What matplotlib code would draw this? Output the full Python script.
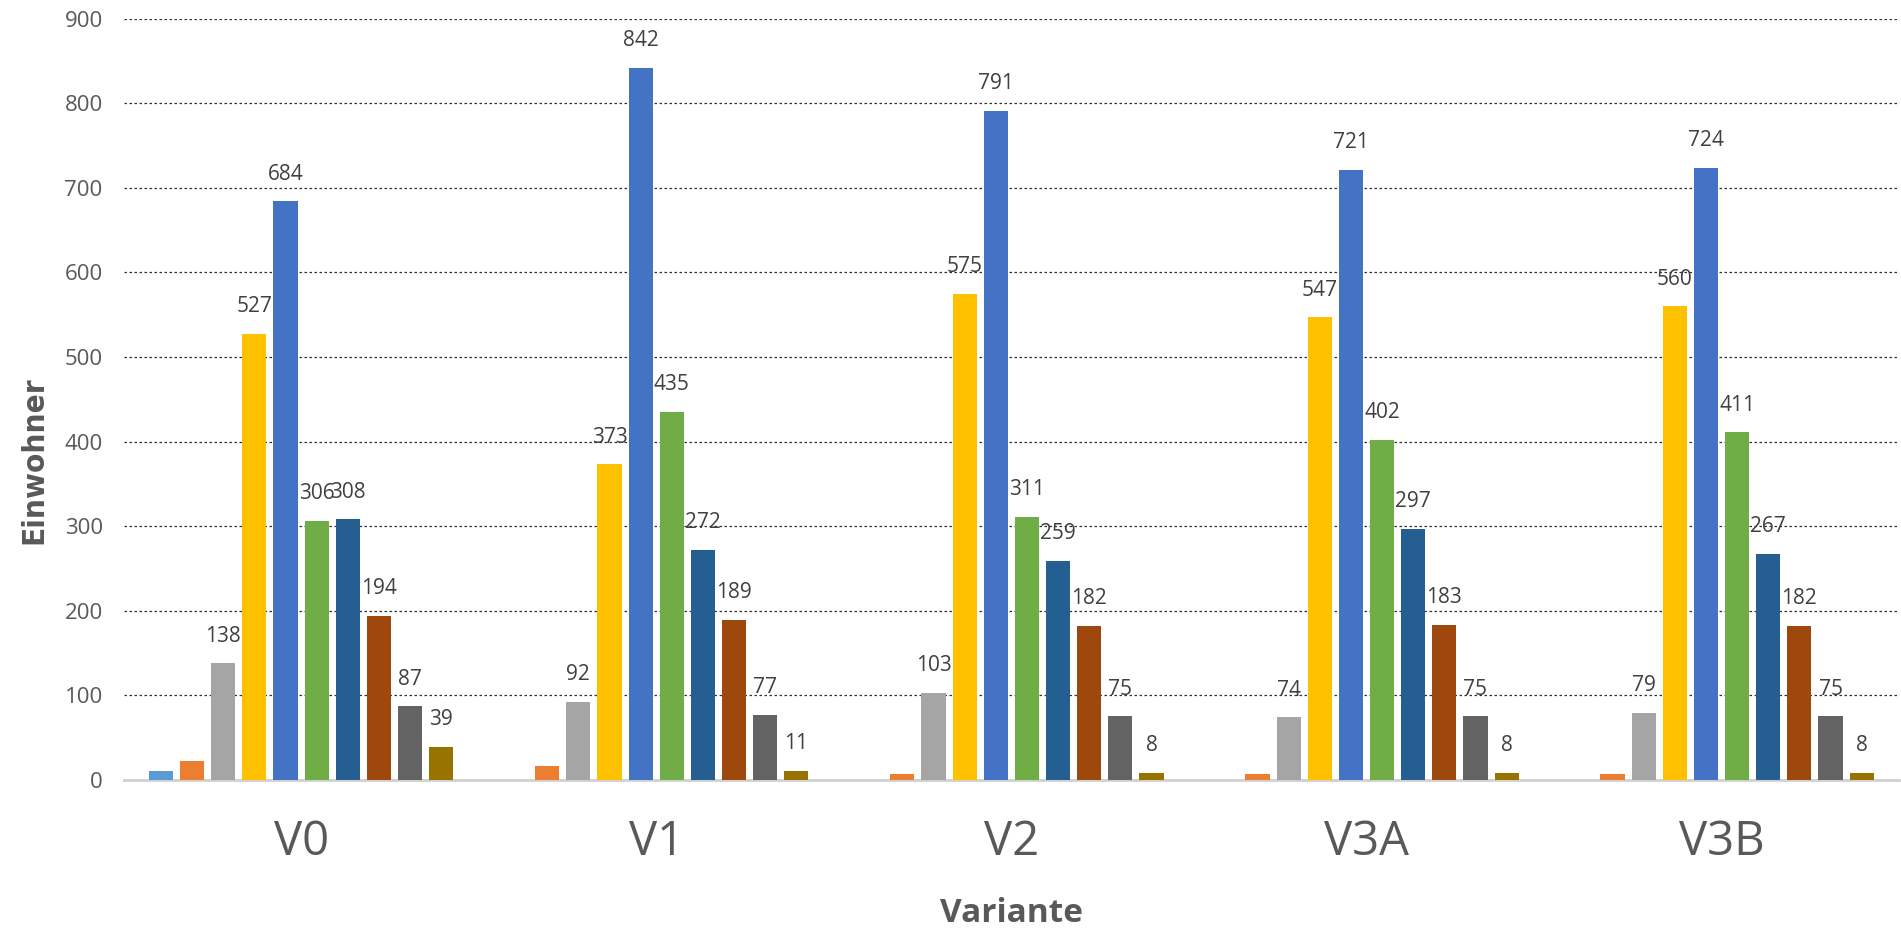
import matplotlib
matplotlib.use("Agg")
import matplotlib.pyplot as plt
import numpy as np

variants = ["V0", "V1", "V2", "V3A", "V3B"]

# one list per series, values per variant
s01 = [10, 0, 0, 0, 0]
s02 = [22, 16, 7, 7, 7]
s03 = [138, 92, 103, 74, 79]
s04 = [527, 373, 575, 547, 560]
s05 = [684, 842, 791, 721, 724]
s06 = [306, 435, 311, 402, 411]
s07 = [308, 272, 259, 297, 267]
s08 = [194, 189, 182, 183, 182]
s09 = [87, 77, 75, 75, 75]
s10 = [39, 11, 8, 8, 8]

series = [s01, s02, s03, s04, s05, s06, s07, s08, s09, s10]
labelled = [False, False, True, True, True, True, True, True, True, True]
colors = ["#5B9BD5", "#ED7D31", "#A5A5A5", "#FFC000", "#4472C4",
          "#70AD47", "#255E91", "#9E480E", "#636363", "#997300"]

fig = plt.figure(figsize=(19.01, 9.34), dpi=100)
ax = fig.add_axes([0.065, 0.165, 0.934, 0.815])

x = np.arange(len(variants))
step = 0.0877
width = 0.068
for i, (vals, col, lab) in enumerate(zip(series, colors, labelled)):
    pos = x + (i - 4.5) * step
    vals = np.array(vals, dtype=float)
    mask = vals > 0
    bars = ax.bar(pos[mask], vals[mask], width=width, color=col, zorder=3)
    if lab:
        for b, v in zip(bars, vals[mask]):
            ax.annotate(f"{int(v)}", (b.get_x() + b.get_width() / 2, v),
                        xytext=(0, 12), textcoords="offset points",
                        ha="center", va="bottom", fontsize=15,
                        color="#404040", family="Open Sans", zorder=4)

ax.set_xlim(-0.5, len(variants) - 0.5)
ax.set_ylim(0, 900)
ax.set_yticks(np.arange(0, 901, 100))
ax.yaxis.grid(True, linestyle=(0, (2, 2)), color="#303030", linewidth=0.9, zorder=0)
ax.set_axisbelow(True)

for side in ["top", "right", "left"]:
    ax.spines[side].set_visible(False)
ax.spines["bottom"].set_color("#D0D0D0")
ax.spines["bottom"].set_linewidth(2)

ax.tick_params(axis="y", length=0, labelsize=16, labelcolor="#595959", pad=15)
ax.tick_params(axis="x", length=0, labelsize=34, labelcolor="#595959", pad=28)
ax.set_xticks(x)
ax.set_xticklabels(variants, family="Open Sans")
for t in ax.get_yticklabels():
    t.set_family("Open Sans")

# axis titles placed in figure coordinates
fig.text(0.5 * (0.065 + 0.999), 1 - 913 / 934, "Variante", fontsize=24,
         fontweight="bold", color="#595959", family="Open Sans",
         ha="center", va="center")
fig.text(34 / 1901, 1 - 460 / 934, "Einwohner", fontsize=22.5,
         fontweight="bold", fontstretch="condensed", color="#595959",
         family="DejaVu Sans", rotation=90, ha="center", va="center")

fig.savefig("out.png", dpi=100)
